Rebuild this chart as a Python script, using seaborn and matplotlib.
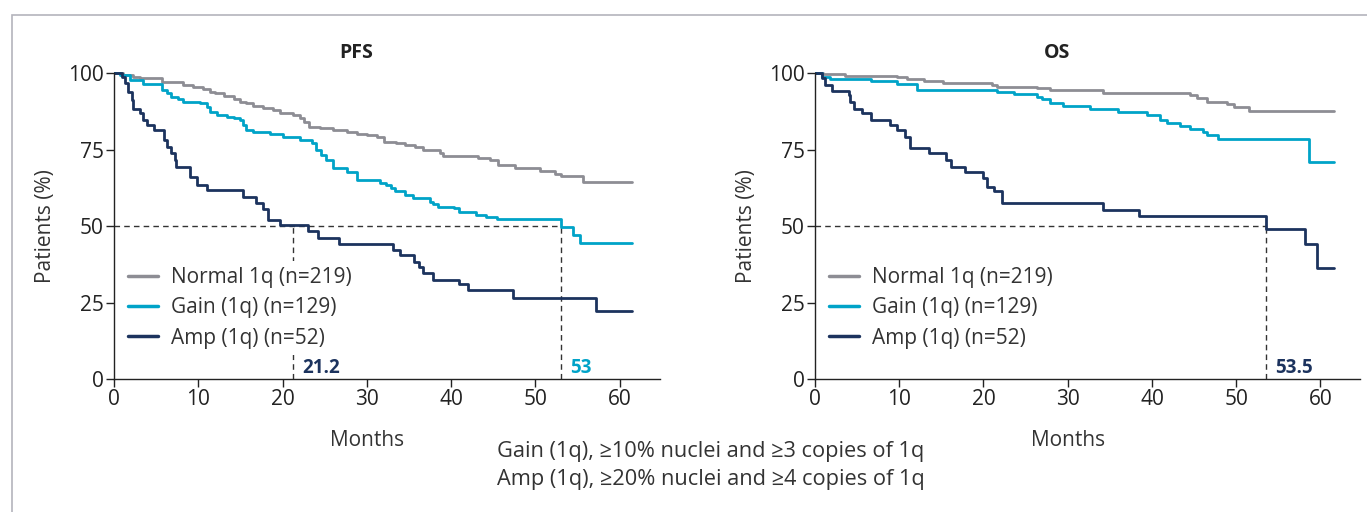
import numpy as np
import pandas as pd
import matplotlib
matplotlib.use("Agg")
import matplotlib.pyplot as plt
from matplotlib.lines import Line2D
from matplotlib.patches import Rectangle
import seaborn as sns

# ---------------- data ----------------
groups = ["Normal 1q (n=219)", "Gain (1q) (n=129)", "Amp (1q) (n=52)"]
colors = ["#8d8d94", "#00a3c8", "#1c335e"]

pfs_normal_t = [0, 1.1, 2.3, 3.1, 5.7, 8.2, 9.4, 10.6, 11.4, 12.0, 13.0, 14.2, 14.9, 15.7, 16.5, 17.7,
                18.9, 19.7, 21.3, 22.1, 22.5, 23.1, 24.4, 26.0, 27.6, 28.8, 30.0, 31.2, 32.1, 33.5, 34.5,
                35.7, 36.7, 38.7, 39.1, 43.2, 44.6, 45.6, 47.6, 50.5, 52.3, 53.1, 55.7, 61.5]
pfs_normal_s = [100, 99.4, 98.8, 98.3, 97.2, 96.1, 95.5, 94.7, 93.9, 93.4, 92.5, 91.4, 90.6, 90.1, 89.2, 88.5,
                87.9, 87.0, 86.3, 85.2, 84.1, 82.5, 81.9, 81.4, 80.8, 80.1, 79.7, 79.2, 77.6, 77.0, 76.5,
                75.9, 74.8, 73.7, 72.9, 72.1, 71.6, 69.9, 68.9, 68.1, 67.0, 66.2, 64.4, 64.4]

pfs_gain_t = [0, 0.7, 1.9, 3.5, 5.7, 6.3, 6.8, 7.6, 8.2, 10.2, 11.0, 11.4, 12.2, 13.4, 14.2, 15.0, 15.3,
              15.7, 16.5, 18.5, 20.1, 22.1, 23.5, 24.0, 24.6, 25.2, 26.0, 27.6, 28.8, 31.6, 32.3, 32.9,
              33.3, 34.5, 35.5, 37.5, 37.9, 38.5, 40.3, 41.0, 43.0, 44.2, 45.4, 53.0, 54.5, 55.3, 61.5]
pfs_gain_s = [100, 99.2, 97.7, 96.4, 94.4, 93.4, 92.3, 91.4, 90.6, 90.1, 89.0, 87.4, 86.3, 85.7, 85.2, 84.6, 83.0,
              81.4, 80.8, 80.1, 79.0, 78.1, 77.0, 74.9, 73.3, 71.6, 68.9, 67.8, 65.1, 64.0, 63.4, 62.3,
              61.6, 60.1, 59.0, 57.9, 57.2, 56.3, 55.8, 54.7, 53.6, 52.8, 52.2, 49.8, 47.1, 44.3, 44.3]

pfs_amp_t = [0, 0.9, 1.3, 1.7, 2.1, 2.3, 3.1, 3.5, 3.9, 4.7, 5.9, 6.3, 6.8, 7.2, 7.4, 9.0, 9.8, 11.0,
             15.3, 16.9, 17.7, 18.3, 19.7, 23.0, 24.2, 26.7, 33.1, 33.9, 35.6, 36.2, 36.7, 37.9, 40.9,
             42.0, 47.3, 57.2, 61.5]
pfs_amp_s = [100, 98.8, 96.6, 93.9, 91.2, 88.4, 86.8, 84.6, 83.0, 81.4, 78.1, 75.7, 73.8, 71.6, 69.4, 66.1, 63.4, 61.7,
             59.6, 57.4, 55.7, 52.0, 50.3, 48.4, 46.2, 44.1, 42.2, 40.5, 38.3, 36.7, 34.5, 32.4, 31.0,
             29.1, 26.4, 22.2, 22.2]

os_normal_t = [0, 1.0, 3.6, 9.7, 10.9, 12.9, 15.2, 21.0, 21.6, 26.3, 27.9, 34.2, 44.5, 45.3, 46.5, 48.9,
               49.7, 51.5, 61.6]
os_normal_s = [100, 99.6, 99.1, 98.8, 98.2, 97.5, 96.8, 96.1, 95.5, 95.0, 94.4, 93.4, 92.8, 91.7, 90.6, 89.9,
               89.0, 87.7, 87.7]

os_gain_t = [0, 0.8, 1.8, 6.7, 9.7, 12.1, 21.6, 23.6, 26.3, 26.9, 27.9, 29.5, 32.7, 36.0, 39.4, 41.0,
             41.8, 43.3, 44.5, 46.1, 46.5, 47.9, 58.6, 61.6]
os_gain_s = [100, 98.8, 98.0, 97.5, 96.4, 94.6, 93.9, 93.1, 92.3, 91.4, 90.3, 89.2, 88.1, 87.3, 86.3, 84.6,
             83.6, 82.7, 81.7, 80.8, 79.7, 78.3, 71.0, 71.0]

os_amp_t = [0, 0.8, 1.2, 2.0, 4.0, 4.2, 4.6, 5.6, 6.7, 8.9, 9.7, 10.7, 11.3, 13.5, 15.6, 16.2, 17.8,
            20.0, 20.4, 21.2, 22.2, 34.2, 38.5, 53.5, 58.2, 59.6, 61.6]
os_amp_s = [100, 98.3, 96.1, 94.2, 92.8, 90.6, 88.4, 86.8, 84.6, 83.0, 81.4, 79.2, 75.4, 73.8, 71.6, 69.4, 67.8,
            65.6, 62.9, 61.3, 57.5, 55.3, 53.3, 49.0, 44.0, 36.3, 36.3]

titles = ["PFS", "OS"]
medians = [[(21.2, "21.2", 2), (53.0, "53", 1)], [(53.5, "53.5", 2)]]
x_ticks = [0, 10, 20, 30, 40, 50, 60]
y_ticks = [0, 25, 50, 75, 100]
footnote = ["Gain (1q), \u226510% nuclei and \u22653 copies of 1q",
            "Amp (1q), \u226520% nuclei and \u22654 copies of 1q"]

# ---------------- style ----------------
sns.set_theme(style="ticks")
plt.rcParams["font.family"] = ["Open Sans", "DejaVu Sans"]
plt.rcParams["text.color"] = "#333333"
plt.rcParams["axes.labelcolor"] = "#333333"
plt.rcParams["xtick.color"] = "#222222"
plt.rcParams["ytick.color"] = "#222222"

FS = 15
W, H = 1367, 512
fig = plt.figure(figsize=(W / 100, H / 100), dpi=100)

# outer frame
fig.add_artist(Rectangle((12 / W, -0.2), 1.5, 0.2 + 1 - 15 / H, transform=fig.transFigure,
                         fill=False, edgecolor="#b4b4bc", linewidth=1.2))

panels = [
    [(pfs_normal_t, pfs_normal_s), (pfs_gain_t, pfs_gain_s), (pfs_amp_t, pfs_amp_s)],
    [(os_normal_t, os_normal_s), (os_gain_t, os_gain_s), (os_amp_t, os_amp_s)],
]

ax_left_px = [114, 815]
ax_right_px = [660, 1360]
bottom_px, top_px = 379, 66.9  # y=0 and y=102
XMAX = [64.8, 64.7]

for i, series in enumerate(panels):
    l = ax_left_px[i] / W
    w = (ax_right_px[i] - ax_left_px[i]) / W
    b = (H - bottom_px) / H
    h = (bottom_px - top_px) / H
    ax = fig.add_axes([l, b, w, h])

    rows = []
    for g, (t, s) in zip(groups, series):
        for tt, ss in zip(t, s):
            rows.append({"time": tt, "surv": ss, "group": g})
    df = pd.DataFrame(rows)
    sns.lineplot(data=df, x="time", y="surv", hue="group", hue_order=groups,
                 palette=colors, estimator=None, drawstyle="steps-post",
                 linewidth=2.0, legend=False, ax=ax)

    # median reference lines
    last = max(m[0] for m in medians[i])
    ax.plot([0, last], [50, 50], color="#333333", lw=1.0, ls=(0, (4, 3)), zorder=1.5)
    for xm, txt, ci in medians[i]:
        ax.plot([xm, xm], [0, 50], color="#333333", lw=1.0, ls=(0, (4, 3)), zorder=1.5)
        ax.text(xm + 1.1, 3.6, txt, color=colors[ci], fontsize=13.5, fontweight="bold",
                ha="left", va="center")

    ax.set_xlim(0, XMAX[i])
    ax.set_ylim(0, 102)
    ax.set_xticks(x_ticks)
    ax.set_yticks(y_ticks)
    ax.tick_params(labelsize=FS, length=6, width=1.0, pad=1.5)
    ax.spines["top"].set_visible(False)
    ax.spines["right"].set_visible(False)
    ax.spines["left"].set_bounds(0, 100)
    for sp in ("left", "bottom"):
        ax.spines[sp].set_linewidth(1.0)
        ax.spines[sp].set_color("#222222")

    ax.set_xlabel("Months", fontsize=FS)
    ax.set_ylabel("Patients (%)", fontsize=FS)
    ax.xaxis.set_label_coords(30 / XMAX[i], -0.165)
    ax.yaxis.set_label_coords(-0.107, 50 / 102)

    ax.text(28.7, 106.5, titles[i], fontsize=14, fontweight="bold", color="#222222",
            ha="center", va="center")

    handles = [Line2D([0], [0], color=c, lw=2.5) for c in colors]
    leg = ax.legend(handles, groups, loc="center left",
                    bbox_to_anchor=(0.0147, (bottom_px - 307.7) / (bottom_px - top_px)),
                    borderaxespad=0, borderpad=0.3, frameon=True, fontsize=FS,
                    handlelength=1.45, handletextpad=0.58, labelspacing=0.45)
    leg.get_frame().set_facecolor("white")
    leg.get_frame().set_edgecolor("none")
    leg.get_frame().set_alpha(1)
    leg.set_zorder(5)

for k, line in enumerate(footnote):
    fig.text(497 / W, 1 - (451 + 29 * k) / H, line, fontsize=15.7, ha="left", va="center",
             color="#333333")

fig.savefig("out.png", dpi=100)
